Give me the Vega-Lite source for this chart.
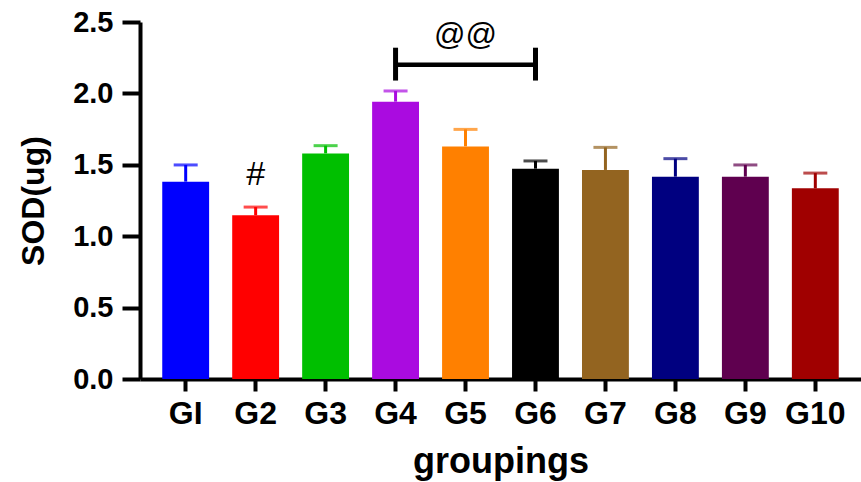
{
  "$schema": "https://vega.github.io/schema/vega-lite/v6.json",
  "autosize": "none",
  "width": 721,
  "height": 357,
  "padding": {"left": 140, "top": 22, "right": 0, "bottom": 103},
  "background": "white",
  "config": {
    "view": {"stroke": null},
    "font": "Liberation Sans"
  },
  "datasets": {
    "bars": [
      {"group": "GI", "mean": 1.382, "upper": 1.499, "color": "#0000FF"},
      {"group": "G2", "mean": 1.146, "upper": 1.204, "color": "#FF0000"},
      {"group": "G3", "mean": 1.580, "upper": 1.634, "color": "#00BF00"},
      {"group": "G4", "mean": 1.942, "upper": 2.017, "color": "#AA0BE0"},
      {"group": "G5", "mean": 1.629, "upper": 1.748, "color": "#FF8000"},
      {"group": "G6", "mean": 1.473, "upper": 1.527, "color": "#000000"},
      {"group": "G7", "mean": 1.464, "upper": 1.622, "color": "#936420"},
      {"group": "G8", "mean": 1.417, "upper": 1.543, "color": "#000080"},
      {"group": "G9", "mean": 1.417, "upper": 1.499, "color": "#5F004F"},
      {"group": "G10", "mean": 1.335, "upper": 1.442, "color": "#A00000"}
    ],
    "bracket": [
      {"from": "G4", "to": "G6", "y": 2.2}
    ],
    "bracketEnds": [
      {"group": "G4", "lo": 2.09, "hi": 2.32},
      {"group": "G6", "lo": 2.09, "hi": 2.32}
    ],
    "marks": [
      {"group": "G2", "y": 1.43, "label": "#", "size": 34},
      {"group": "G5", "y": 2.4, "label": "@@", "size": 31}
    ]
  },
  "encoding": {
    "x": {
      "field": "group",
      "type": "nominal",
      "sort": ["GI", "G2", "G3", "G4", "G5", "G6", "G7", "G8", "G9", "G10"],
      "scale": {"domain": ["GI", "G2", "G3", "G4", "G5", "G6", "G7", "G8", "G9", "G10"], "paddingInner": 0.33, "paddingOuter": 0.318},
      "axis": {
        "title": "groupings",
        "labelAngle": 0,
        "domainWidth": 4,
        "domainColor": "black",
        "tickWidth": 4,
        "tickColor": "black",
        "tickSize": 12,
        "labelFontSize": 32,
        "labelFontWeight": "bold",
        "labelColor": "black",
        "labelPadding": 7,
        "titleFontSize": 36,
        "titleFontWeight": "bold",
        "titleColor": "black",
        "titlePadding": 15
      }
    }
  },
  "layer": [
    {
      "data": {"name": "bars"},
      "mark": {"type": "bar"},
      "encoding": {
        "y": {
          "field": "mean",
          "type": "quantitative",
          "scale": {"domain": [0, 2.5], "nice": false},
          "axis": {
            "title": "SOD(ug)",
            "values": [0, 0.5, 1, 1.5, 2, 2.5],
            "format": ".1f",
            "grid": false,
            "domainWidth": 4,
            "domainColor": "black",
            "tickWidth": 4,
            "tickColor": "black",
            "tickSize": 18,
            "labelFontSize": 29,
            "labelFontWeight": "bold",
            "labelColor": "black",
            "labelPadding": 9,
            "titleFontSize": 32,
            "titleFontWeight": "bold",
            "titleColor": "black",
            "titlePadding": 22
          }
        },
        "color": {"field": "color", "type": "nominal", "scale": null, "legend": null}
      }
    },
    {
      "data": {"name": "bars"},
      "mark": {"type": "rule", "strokeWidth": 3},
      "encoding": {
        "y": {"field": "mean", "type": "quantitative"},
        "y2": {"field": "upper"},
        "color": {"field": "color", "type": "nominal", "scale": null, "legend": null}
      }
    },
    {
      "data": {"name": "bars"},
      "mark": {"type": "tick", "thickness": 3, "size": 24, "orient": "horizontal"},
      "encoding": {
        "y": {"field": "upper", "type": "quantitative"},
        "color": {"field": "color", "type": "nominal", "scale": null, "legend": null}
      }
    },
    {
      "data": {"name": "bracket"},
      "mark": {"type": "rule", "strokeWidth": 4.5, "color": "black"},
      "encoding": {
        "x": {"field": "from", "type": "nominal"},
        "x2": {"field": "to"},
        "y": {"field": "y", "type": "quantitative"}
      }
    },
    {
      "data": {"name": "bracketEnds"},
      "mark": {"type": "rule", "strokeWidth": 5, "color": "black"},
      "encoding": {
        "y": {"field": "lo", "type": "quantitative"},
        "y2": {"field": "hi"}
      }
    },
    {
      "data": {"name": "marks"},
      "mark": {"type": "text", "color": "black", "baseline": "middle", "align": "center"},
      "encoding": {
        "y": {"field": "y", "type": "quantitative"},
        "text": {"field": "label", "type": "nominal"},
        "size": {"field": "size", "type": "quantitative", "scale": null, "legend": null}
      }
    }
  ]
}
